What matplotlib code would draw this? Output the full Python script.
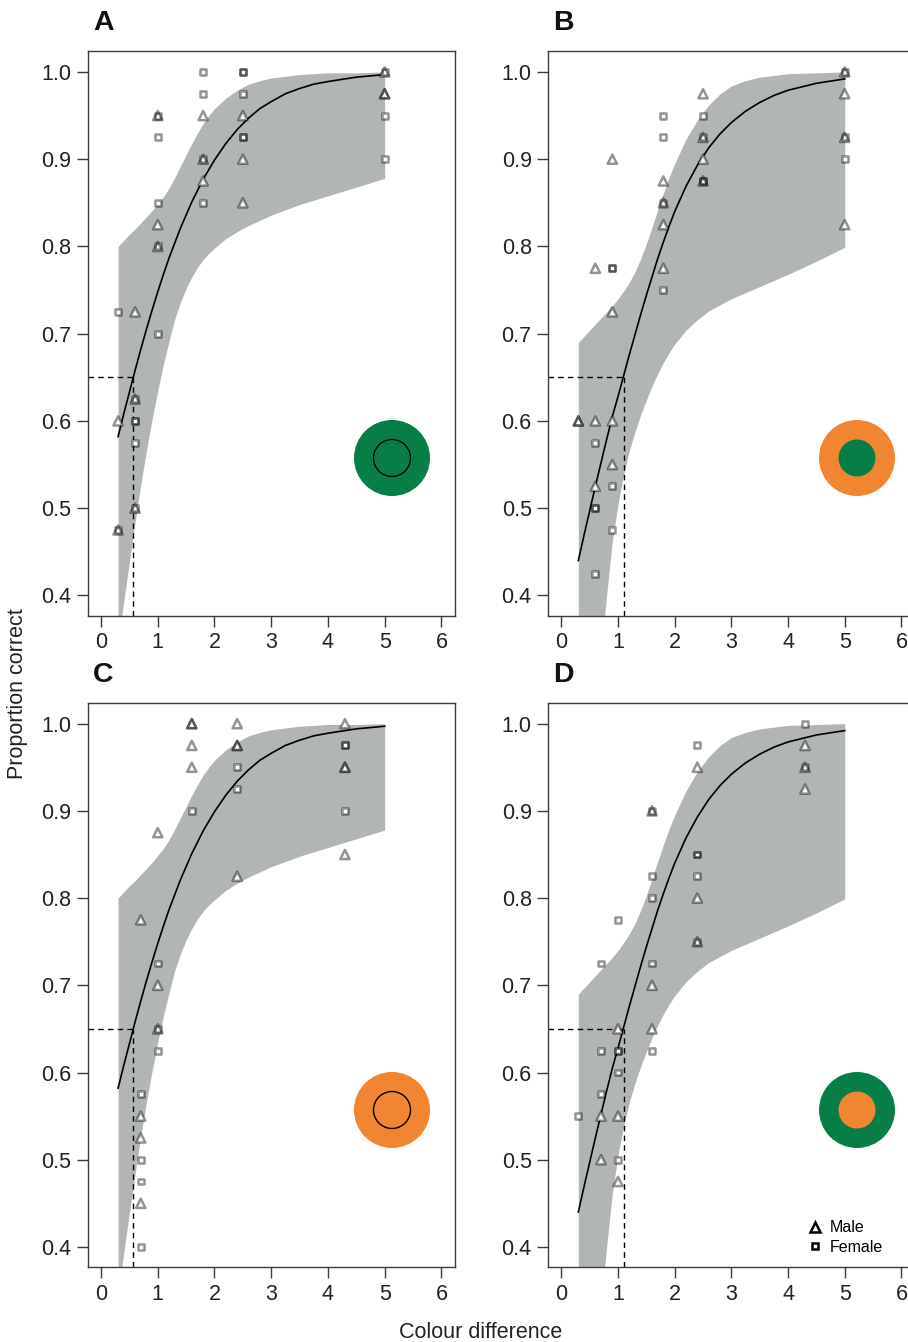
import matplotlib
matplotlib.use('Agg')
import matplotlib.pyplot as plt
from matplotlib.patches import Circle
from matplotlib.lines import Line2D

plt.rcParams['font.family'] = ['Liberation Sans', 'DejaVu Sans']

# ---------------- data ----------------
fit_x = [0.3, 0.4, 0.5, 0.6, 0.7, 0.8, 0.9, 1.0, 1.1, 1.2, 1.3, 1.4, 1.5, 1.6, 1.7, 1.8, 1.9, 2.0,
         2.2, 2.4, 2.6, 2.8, 3.0, 3.25, 3.5, 3.75, 4.0, 4.5, 5.0]
# panels A and C (same fitted model)
fit_AC = [0.582, 0.608, 0.633, 0.658, 0.682, 0.705, 0.727, 0.748, 0.768, 0.787, 0.804, 0.821, 0.836,
          0.851, 0.864, 0.877, 0.888, 0.899, 0.918, 0.934, 0.947, 0.958, 0.966, 0.975, 0.981, 0.986,
          0.989, 0.994, 0.997]
upper_AC = [0.800, 0.807, 0.814, 0.820, 0.827, 0.834, 0.841, 0.849, 0.857, 0.867, 0.879, 0.892, 0.905,
            0.918, 0.930, 0.941, 0.950, 0.958, 0.970, 0.979, 0.986, 0.990, 0.993, 0.995, 0.997, 0.998,
            0.999, 0.999, 1.000]
lower_AC = [0.347, 0.393, 0.439, 0.484, 0.527, 0.566, 0.602, 0.635, 0.665, 0.692, 0.717, 0.736, 0.752,
            0.765, 0.776, 0.785, 0.792, 0.798, 0.809, 0.817, 0.824, 0.830, 0.836, 0.842, 0.848, 0.853,
            0.858, 0.868, 0.878]
# panels B and D
fit_BD = [0.440, 0.469, 0.497, 0.525, 0.552, 0.579, 0.605, 0.628, 0.652, 0.676, 0.699, 0.722, 0.744,
          0.765, 0.786, 0.805, 0.823, 0.840, 0.869, 0.893, 0.913, 0.929, 0.942, 0.955, 0.965, 0.973,
          0.979, 0.987, 0.992]
upper_BD = [0.690, 0.697, 0.704, 0.711, 0.718, 0.725, 0.732, 0.740, 0.749, 0.759, 0.771, 0.786, 0.803,
            0.822, 0.842, 0.861, 0.879, 0.895, 0.923, 0.945, 0.962, 0.975, 0.984, 0.990, 0.994, 0.996,
            0.998, 0.999, 1.000]
lower_BD = [0.050, 0.120, 0.190, 0.260, 0.335, 0.401, 0.462, 0.505, 0.539, 0.566, 0.588, 0.607, 0.624,
            0.640, 0.654, 0.667, 0.678, 0.688, 0.704, 0.716, 0.726, 0.733, 0.740, 0.747, 0.754, 0.761,
            0.768, 0.783, 0.799]

threshold_level = 0.65
threshold_AC = 0.56
threshold_BD = 1.10

# individual points (repeated entries = overlapping individuals)
a_male_x = [0.3, 0.3, 0.6, 0.6, 0.6, 1.0, 1.0, 1.0, 1.8, 1.8, 1.8, 2.5, 2.5, 2.5, 5.0, 5.0, 5.0]
a_male_y = [0.6, 0.475, 0.725, 0.625, 0.5, 0.95, 0.825, 0.8, 0.95, 0.9, 0.875, 0.95, 0.9, 0.85, 1.0, 0.975, 0.975]
a_female_x = [0.3, 0.3, 0.6, 0.6, 0.6, 0.6, 0.6, 1.0, 1.0, 1.0, 1.0, 1.0, 1.8, 1.8, 1.8, 1.8,
              2.5, 2.5, 2.5, 2.5, 2.5, 5.0, 5.0, 5.0]
a_female_y = [0.725, 0.475, 0.625, 0.6, 0.6, 0.575, 0.5, 0.95, 0.925, 0.85, 0.8, 0.7, 1.0, 0.975, 0.9, 0.85,
              1.0, 1.0, 0.975, 0.925, 0.925, 1.0, 0.95, 0.9]

b_male_x = [0.3, 0.3, 0.6, 0.6, 0.6, 0.9, 0.9, 0.9, 0.9, 1.8, 1.8, 1.8, 1.8, 2.5, 2.5, 2.5, 2.5, 5.0, 5.0, 5.0, 5.0]
b_male_y = [0.6, 0.6, 0.775, 0.6, 0.525, 0.9, 0.725, 0.6, 0.55, 0.875, 0.85, 0.825, 0.775,
            0.975, 0.925, 0.9, 0.875, 1.0, 0.975, 0.925, 0.825]
b_female_x = [0.6, 0.6, 0.6, 0.6, 0.9, 0.9, 0.9, 0.9, 1.8, 1.8, 1.8, 1.8, 2.5, 2.5, 2.5, 2.5, 5.0, 5.0, 5.0]
b_female_y = [0.575, 0.5, 0.5, 0.425, 0.775, 0.775, 0.525, 0.475, 0.95, 0.925, 0.85, 0.75,
              0.95, 0.925, 0.875, 0.875, 1.0, 0.925, 0.9]

c_male_x = [0.7, 0.7, 0.7, 0.7, 1.0, 1.0, 1.0, 1.6, 1.6, 1.6, 1.6, 2.4, 2.4, 2.4, 2.4, 4.3, 4.3, 4.3, 4.3]
c_male_y = [0.775, 0.55, 0.525, 0.45, 0.875, 0.7, 0.65, 1.0, 1.0, 0.975, 0.95, 1.0, 0.975, 0.975, 0.825,
            1.0, 0.95, 0.95, 0.85]
c_female_x = [0.7, 0.7, 0.7, 0.7, 1.0, 1.0, 1.0, 1.6, 2.4, 2.4, 4.3, 4.3, 4.3]
c_female_y = [0.575, 0.5, 0.475, 0.4, 0.725, 0.65, 0.625, 0.9, 0.95, 0.925, 0.975, 0.975, 0.9]

d_male_x = [0.7, 0.7, 1.0, 1.0, 1.0, 1.6, 1.6, 1.6, 2.4, 2.4, 2.4, 4.3, 4.3, 4.3]
d_male_y = [0.55, 0.5, 0.65, 0.55, 0.475, 0.9, 0.7, 0.65, 0.95, 0.8, 0.75, 0.975, 0.95, 0.925]
d_female_x = [0.3, 0.7, 0.7, 0.7, 1.0, 1.0, 1.0, 1.0, 1.0, 1.6, 1.6, 1.6, 1.6, 1.6,
              2.4, 2.4, 2.4, 2.4, 2.4, 4.3, 4.3]
d_female_y = [0.55, 0.725, 0.625, 0.575, 0.775, 0.625, 0.625, 0.6, 0.5, 0.9, 0.825, 0.8, 0.725, 0.625,
              0.975, 0.85, 0.85, 0.825, 0.75, 1.0, 0.95]

panel_labels = ['A', 'B', 'C', 'D']
x_ticks = [0, 1, 2, 3, 4, 5, 6]
y_ticks = [0.4, 0.5, 0.6, 0.7, 0.8, 0.9, 1.0]
y_tick_labels = ['0.4', '0.5', '0.6', '0.7', '0.8', '0.9', '1.0']

GREEN = '#077e45'
ORANGE = '#f28531'
BAND = '#b2b5b5'
FRAME = '#3c3c3c'

# ---------------- figure ----------------
W, H = 908, 1342
fig = plt.figure(figsize=(W / 100, H / 100), dpi=100)


def add_ax(left, right, top, bottom):
    return fig.add_axes([left / W, 1 - bottom / H, (right - left) / W, (bottom - top) / H])


boxes = [(88, 455, 51, 615.5), (548.3, 915, 51, 615.5),
         (88, 455, 702.7, 1267), (548.3, 915, 702.7, 1267)]
fits = [(fit_AC, upper_AC, lower_AC, threshold_AC), (fit_BD, upper_BD, lower_BD, threshold_BD),
        (fit_AC, upper_AC, lower_AC, threshold_AC), (fit_BD, upper_BD, lower_BD, threshold_BD)]
points = [(a_male_x, a_male_y, a_female_x, a_female_y),
          (b_male_x, b_male_y, b_female_x, b_female_y),
          (c_male_x, c_male_y, c_female_x, c_female_y),
          (d_male_x, d_male_y, d_female_x, d_female_y)]
# icon: (centre px x, centre px y, outer colour, inner colour, inner outline)
icons = [(392, 458, GREEN, GREEN, 'black'), (857, 458, ORANGE, GREEN, 'none'),
         (392, 1110, ORANGE, ORANGE, 'black'), (857, 1110, GREEN, ORANGE, 'none')]

XLIM = (-0.23, 6.24)
YLIM = (0.377, 1.024)
TRI_S = 44
SQ_S = 18
EDGE = (0, 0, 0, 0.42)

axes = []
for i, box in enumerate(boxes):
    ax = add_ax(*box)
    axes.append(ax)
    fx, up, lo, thr = fits[i]
    ax.set_xlim(*XLIM)
    ax.set_ylim(*YLIM)
    ax.fill_between(fit_x, lo, up, color=BAND, lw=0, zorder=1)
    ax.hlines(threshold_level, XLIM[0], thr, colors='black', linestyles=(0, (4, 3)), lw=1.0, zorder=2)
    ax.vlines(thr, YLIM[0], threshold_level, colors='black', linestyles=(0, (4, 3)), lw=1.0, zorder=2)
    ax.plot(fit_x, fx, color='black', lw=1.2, zorder=3)

    mx, my, fxs, fys = points[i]
    # white faces first, then translucent edges so overlaps darken
    ax.scatter(mx, my, marker='^', s=TRI_S, facecolors='white', edgecolors='none', zorder=4, clip_on=False)
    ax.scatter(fxs, fys, marker='s', s=SQ_S, facecolors='white', edgecolors='none', zorder=4, clip_on=False)
    ax.scatter(mx, my, marker='^', s=TRI_S, facecolors='none', edgecolors=[EDGE], linewidths=1.8,
               zorder=5, clip_on=False)
    ax.scatter(fxs, fys, marker='s', s=SQ_S, facecolors='none', edgecolors=[EDGE], linewidths=1.8,
               zorder=5, clip_on=False)

    ax.set_xticks(x_ticks)
    ax.set_xticklabels([str(t) for t in x_ticks])
    ax.set_yticks(y_ticks)
    ax.set_yticklabels(y_tick_labels)
    ax.tick_params(direction='out', length=8, width=1.0, color=FRAME, labelsize=15.5, pad=4,
                   labelcolor='#222222')
    for sp in ax.spines.values():
        sp.set_color(FRAME)
        sp.set_linewidth(1.0)

    # panel letter
    fig.text((box[0] + 5) / W, 1 - (box[2] - 28) / H, panel_labels[i], fontsize=20.5,
             fontweight='bold', ha='left', va='center', color='#111111')

# colour-stimulus icons (illustrations)
for cx, cy, outer, inner, edge in icons:
    c_out = Circle((cx / 100, (H - cy) / 100), 0.38, transform=fig.dpi_scale_trans,
                   facecolor=outer, edgecolor='none')
    c_in = Circle((cx / 100, (H - cy) / 100), 0.185, transform=fig.dpi_scale_trans,
                  facecolor=inner, edgecolor=edge, lw=1.0)
    fig.add_artist(c_out)
    fig.add_artist(c_in)

# legend in panel D
handles = [Line2D([], [], marker='^', ls='none', mfc='white', mec='black', ms=7, mew=1.8),
           Line2D([], [], marker='s', ls='none', mfc='white', mec='black', ms=5, mew=1.8)]
axes[3].legend(handles, ['Male', 'Female'], loc='lower left', bbox_to_anchor=(0.7055, 0.022),
               frameon=False, fontsize=11.5, handlelength=1.0, handletextpad=0.4,
               labelspacing=0.28, borderpad=0, borderaxespad=0)

fig.text(18 / W, 1 - 694 / H, 'Proportion correct', rotation=90, fontsize=15.5,
         ha='center', va='center', color='#222222')
fig.text(481 / W, 1 - 1333 / H, 'Colour difference', fontsize=15.5,
         ha='center', va='center', color='#222222')

fig.savefig('out.png', dpi=100)
